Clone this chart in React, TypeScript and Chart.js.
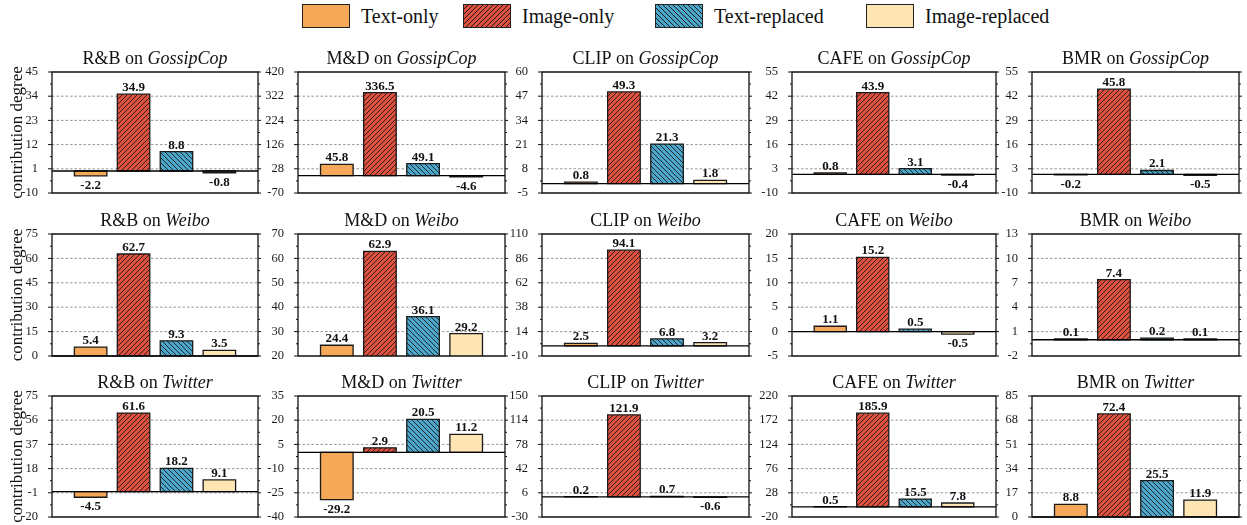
import React, { useEffect, useRef } from "react";
import { Chart, registerables } from "chart.js";
Chart.register(...registerables);

// ---------- data ----------
const SERIES = ["Text-only", "Image-only", "Text-replaced", "Image-replaced"];
const MODELS = ["R&B", "M&D", "CLIP", "CAFE", "BMR"];
const DATASETS = ["GossipCop", "Weibo", "Twitter"];

const gossipcopValues = [
  [-2.2, 34.9, 8.8, -0.8],
  [45.8, 336.5, 49.1, -4.6],
  [0.8, 49.3, 21.3, 1.8],
  [0.8, 43.9, 3.1, -0.4],
  [-0.2, 45.8, 2.1, -0.5],
];
const weiboValues = [
  [5.4, 62.7, 9.3, 3.5],
  [24.4, 62.9, 36.1, 29.2],
  [2.5, 94.1, 6.8, 3.2],
  [1.1, 15.2, 0.5, -0.5],
  [0.1, 7.4, 0.2, 0.1],
];
const twitterValues = [
  [-4.5, 61.6, 18.2, 9.1],
  [-29.2, 2.9, 20.5, 11.2],
  [0.2, 121.9, 0.7, -0.6],
  [0.5, 185.9, 15.5, 7.8],
  [8.8, 72.4, 25.5, 11.9],
];

const gossipcopTicks = [
  [-10, 1, 12, 23, 34, 45],
  [-70, 28, 126, 224, 322, 420],
  [-5, 8, 21, 34, 47, 60],
  [-10, 3, 16, 29, 42, 55],
  [-10, 3, 16, 29, 42, 55],
];
const weiboTicks = [
  [0, 15, 30, 45, 60, 75],
  [20, 30, 40, 50, 60, 70],
  [-10, 14, 38, 62, 86, 110],
  [-5, 0, 5, 10, 15, 20],
  [-2, 1, 4, 7, 10, 13],
];
const twitterTicks = [
  [-20, -1, 18, 37, 56, 75],
  [-40, -25, -10, 5, 20, 35],
  [-30, 6, 42, 78, 114, 150],
  [-20, 28, 76, 124, 172, 220],
  [0, 17, 34, 51, 68, 85],
];

const VALUE_ROWS = [gossipcopValues, weiboValues, twitterValues];
const TICK_ROWS = [gossipcopTicks, weiboTicks, twitterTicks];

// ---------- style / layout ----------
const COLORS = ["#F5A857", "#E0503F", "#4BA6CA", "#FFE4B4"];
const HATCH = ["", "/", "\\", ""];
const SERIF = "'Liberation Serif', 'Times New Roman', serif";
Chart.defaults.font.family = SERIF;

const COL_L = [52, 298, 542, 792, 1032];
const COL_R = [258, 505, 749, 996, 1239];
const ROW_T = [72, 234, 396];
const ROW_B = [193, 356, 517];
const AXIS_W = 40;
const PAD_TOP = 30;
const PAD_BOTTOM = 16;
const PAD_RIGHT = 5;

function makeFill(ctx: CanvasRenderingContext2D, color: string, dir: string): any {
  if (!dir) return color;
  const s = 5;
  const t = document.createElement("canvas");
  t.width = s;
  t.height = s;
  const c = t.getContext("2d")!;
  c.fillStyle = color;
  c.fillRect(0, 0, s, s);
  c.strokeStyle = "#1c1c1c";
  c.lineWidth = 0.9;
  c.beginPath();
  if (dir === "/") {
    c.moveTo(-1, s + 1); c.lineTo(s + 1, -1);
    c.moveTo(-1, 1); c.lineTo(1, -1);
    c.moveTo(s - 1, s + 1); c.lineTo(s + 1, s - 1);
  } else {
    c.moveTo(-1, -1); c.lineTo(s + 1, s + 1);
    c.moveTo(-1, s - 1); c.lineTo(1, s + 1);
    c.moveTo(s - 1, -1); c.lineTo(s + 1, 1);
  }
  c.stroke();
  return ctx.createPattern(t, "repeat");
}

function SubChart(props: { row: number; col: number }) {
  const { row, col } = props;
  const ref = useRef<HTMLCanvasElement>(null);
  const values = VALUE_ROWS[row][col];
  const ticks = TICK_ROWS[row][col];
  const model = MODELS[col];
  const dataset = DATASETS[row];
  const left = COL_L[col];
  const right = COL_R[col];
  const top = ROW_T[row];
  const bottom = ROW_B[row];
  const canvasLeft = col === 0 ? 0 : left - AXIS_W;
  const padLeft = left - AXIS_W - canvasLeft;
  const cw = right - canvasLeft + PAD_RIGHT;
  const ch = bottom - top + PAD_TOP + PAD_BOTTOM;
  const canvasTop = top - PAD_TOP;

  useEffect(() => {
    const canvas = ref.current!;
    const ctx0 = canvas.getContext("2d")!;
    const fills = COLORS.map((c, i) => makeFill(ctx0, c, HATCH[i]));

    const decor = {
      id: "decor",
      beforeDatasetsDraw(chart: any) {
        const { ctx, chartArea: a, scales } = chart;
        const y = scales.y;
        ctx.save();
        ctx.strokeStyle = "#7a7a7a";
        ctx.lineWidth = 0.8;
        ctx.setLineDash([2.5, 2]);
        for (let i = 1; i < ticks.length - 1; i++) {
          const py = y.getPixelForValue(ticks[i]);
          ctx.beginPath();
          ctx.moveTo(a.left, py);
          ctx.lineTo(a.right, py);
          ctx.stroke();
        }
        ctx.restore();
      },
      afterDatasetsDraw(chart: any) {
        const { ctx, chartArea: a } = chart;
        const meta = chart.getDatasetMeta(0);
        ctx.save();
        ctx.beginPath();
        ctx.rect(a.left, a.top, a.right - a.left, a.bottom - a.top);
        ctx.clip();
        ctx.strokeStyle = "#1a1a1a";
        ctx.lineWidth = 1.3;
        ctx.setLineDash([]);
        meta.data.forEach((bar: any) => {
          const yt = Math.min(bar.y, bar.base);
          const h = Math.abs(bar.base - bar.y);
          ctx.beginPath();
          ctx.rect(bar.x - bar.width / 2, yt, bar.width, h);
          ctx.stroke();
        });
        ctx.restore();
      },
      afterDraw(chart: any) {
        const { ctx, chartArea: a, scales } = chart;
        const y = scales.y;
        const meta = chart.getDatasetMeta(0);
        const L = a.left, R = a.right, T = a.top, B = a.bottom;
        ctx.save();
        ctx.setLineDash([]);
        // zero line
        const min = ticks[0];
        const max = ticks[ticks.length - 1];
        if (min <= 0 && max >= 0) {
          const py = y.getPixelForValue(0);
          ctx.strokeStyle = "#000";
          ctx.lineWidth = 1.3;
          ctx.beginPath();
          ctx.moveTo(L, py);
          ctx.lineTo(R, py);
          ctx.stroke();
        }
        // frame
        ctx.strokeStyle = "#111";
        ctx.lineWidth = 1.3;
        ctx.beginPath();
        ctx.moveTo(L, T);
        ctx.lineTo(R, T);
        ctx.lineTo(R, B);
        ctx.lineTo(L, B);
        ctx.closePath();
        ctx.stroke();
        // tick marks
        ctx.lineWidth = 1;
        ctx.beginPath();
        for (let i = 0; i < ticks.length; i++) {
          const py = y.getPixelForValue(ticks[i]);
          ctx.moveTo(L - 4, py); ctx.lineTo(L, py);
          ctx.moveTo(R, py); ctx.lineTo(R + 3, py);
          if (i < ticks.length - 1) {
            const pm = y.getPixelForValue((ticks[i] + ticks[i + 1]) / 2);
            ctx.moveTo(L - 2, pm); ctx.lineTo(L, pm);
            ctx.moveTo(R, pm); ctx.lineTo(R + 2, pm);
          }
        }
        ctx.stroke();
        // value labels
        ctx.fillStyle = "#111";
        ctx.font = `bold 13px ${SERIF}`;
        ctx.textAlign = "center";
        ctx.textBaseline = "alphabetic";
        meta.data.forEach((bar: any, i: number) => {
          const v = values[i];
          const label = v.toFixed(1);
          if (v >= 0) ctx.fillText(label, bar.x, bar.y - 3);
          else ctx.fillText(label, bar.x, bar.y + 13);
        });
        // title
        const part1 = `${model} on `;
        const part2 = dataset;
        ctx.font = `18px ${SERIF}`;
        const w1 = ctx.measureText(part1).width;
        ctx.font = `italic 18px ${SERIF}`;
        const w2 = ctx.measureText(part2).width;
        const cx = (L + R) / 2;
        const x0 = cx - (w1 + w2) / 2;
        ctx.textAlign = "left";
        ctx.fillStyle = "#111";
        ctx.font = `18px ${SERIF}`;
        ctx.fillText(part1, x0, T - 8);
        ctx.font = `italic 18px ${SERIF}`;
        ctx.fillText(part2, x0 + w1, T - 8);
        // y title
        if (col === 0) {
          ctx.save();
          ctx.translate(18, (T + B) / 2);
          ctx.rotate(-Math.PI / 2);
          ctx.font = `17px ${SERIF}`;
          ctx.textAlign = "center";
          ctx.textBaseline = "middle";
          ctx.fillText("contribution degree", 0, 0);
          ctx.restore();
        }
        ctx.restore();
      },
    };

    const chart = new Chart(canvas, {
      type: "bar",
      data: {
        datasets: [
          {
            label: SERIES.join(","),
            data: values.map((v, i) => ({ x: i + 1, y: v })) as any,
            backgroundColor: fills,
            borderWidth: 0,
            categoryPercentage: 1,
            barPercentage: 0.84,
          },
        ],
      },
      options: {
        responsive: false,
        animation: false,
        devicePixelRatio: 1,
        layout: { padding: { left: padLeft, top: PAD_TOP, bottom: PAD_BOTTOM, right: PAD_RIGHT } },
        plugins: {
          legend: { display: false },
          tooltip: { enabled: false },
          title: { display: false },
        },
        scales: {
          x: { type: "linear", min: 0.1, max: 4.9, offset: false, display: false },
          y: {
            min: ticks[0],
            max: ticks[ticks.length - 1],
            afterBuildTicks: (s: any) => {
              s.ticks = ticks.map((v) => ({ value: v }));
            },
            afterFit: (s: any) => {
              s.width = AXIS_W;
            },
            border: { display: false },
            grid: { display: false },
            ticks: {
              color: "#1a1a1a",
              padding: 6,
              font: { family: SERIF, size: 12.5 },
              callback: (v: any) => String(v),
            },
          },
        },
      } as any,
      plugins: [decor],
    });
    return () => chart.destroy();
  }, []);

  return (
    <canvas
      ref={ref}
      width={cw}
      height={ch}
      style={{ position: "absolute", left: canvasLeft, top: canvasTop, width: cw, height: ch }}
    />
  );
}

const LEGEND_X = [302, 463, 655, 866];

function swatchBg(i: number): string {
  if (HATCH[i] === "/")
    return `repeating-linear-gradient(135deg, ${COLORS[i]} 0px, ${COLORS[i]} 2.6px, #1c1c1c 2.6px, #1c1c1c 3.5px)`;
  if (HATCH[i] === "\\")
    return `repeating-linear-gradient(45deg, ${COLORS[i]} 0px, ${COLORS[i]} 2.6px, #1c1c1c 2.6px, #1c1c1c 3.5px)`;
  return COLORS[i];
}

function Legend() {
  return (
    <>
      {SERIES.map((s, i) => (
        <React.Fragment key={s}>
          <div
            style={{
              position: "absolute",
              left: LEGEND_X[i],
              top: 4,
              width: 46,
              height: 22,
              border: "1.3px solid #222",
              background: swatchBg(i),
            }}
          />
          <div
            style={{
              position: "absolute",
              left: LEGEND_X[i] + 59,
              top: 4,
              height: 24,
              lineHeight: "24px",
              fontFamily: SERIF,
              fontSize: 20,
              color: "#111",
              whiteSpace: "nowrap",
            }}
          >
            {s}
          </div>
        </React.Fragment>
      ))}
    </>
  );
}

export default function App() {
  return (
    <div
      style={{
        position: "absolute",
        left: 0,
        top: 0,
        width: 1247,
        height: 525,
        background: "#fff",
        overflow: "hidden",
      }}
    >
      <Legend />
      {DATASETS.map((d, r) =>
        MODELS.map((m, c) => <SubChart key={`${d}-${m}`} row={r} col={c} />)
      )}
    </div>
  );
}
